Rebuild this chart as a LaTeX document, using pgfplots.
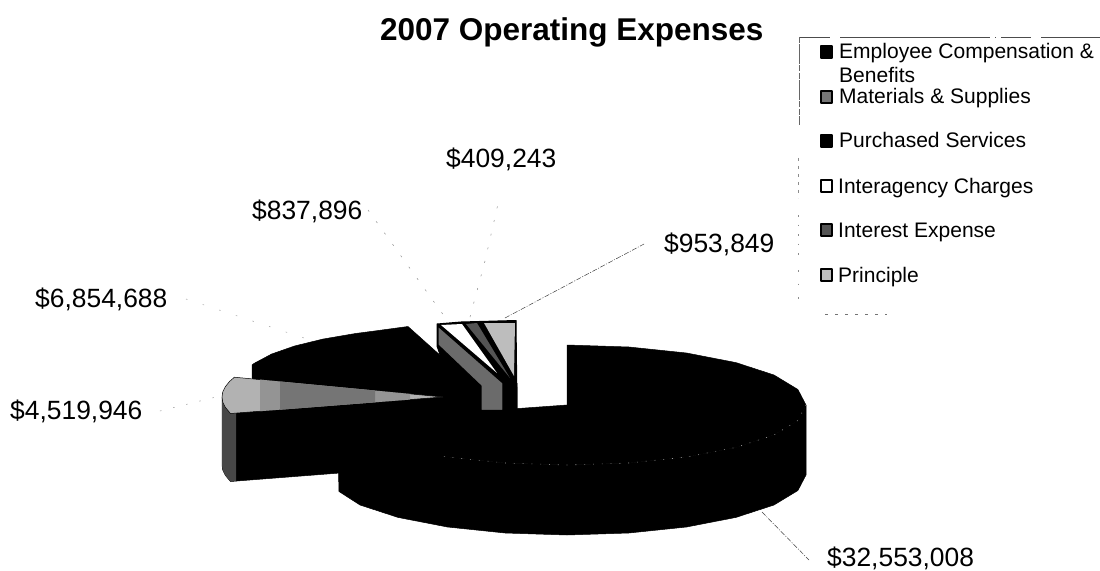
\documentclass[border=0pt]{standalone}
\usepackage{pgfplots}
\usepackage{fontspec}
\setmainfont{Liberation Sans}
\pgfplotsset{compat=1.18}
\definecolor{matTop}{gray}{0.70}
\definecolor{matBand}{gray}{0.58}
\definecolor{matMid}{gray}{0.46}
\definecolor{matRim}{gray}{0.28}
\definecolor{strip}{gray}{0.42}
\definecolor{intr}{gray}{0.33}
\definecolor{princ}{gray}{0.74}
\newcommand{\lab}[3]{\node[anchor=base west,inner sep=0pt,font=\fontsize{26.5pt}{30pt}\selectfont] at (axis cs:#1,#2) {#3};}
\newcommand{\leg}[3]{\node[anchor=base west,inner sep=0pt,font=\fontsize{21.1pt}{24pt}\selectfont] at (axis cs:#1,#2) {#3};}
\begin{document}
\begin{tikzpicture}
\useasboundingbox (0,0) rectangle (1100bp,571bp);
\begin{axis}[
  at={(0,0)}, anchor=south west,
  scale only axis, width=1100bp, height=571bp,
  xmin=0, xmax=1100, ymin=0, ymax=571, y dir=reverse,
  hide axis, clip=false,
  every axis plot/.append style={no markers, line join=round},
]
% Exploded slice: Purchased Services ($6,854,688) with its wall
\addplot[fill=black,draw=black,line width=0.5bp] coordinates {
 (252,365) (253.9,363.5) (271.7,354) (294.6,346) (322.8,339.1) (355.5,333.5)
 (373.2,331.2) (408,326.5) (470,382) (470,440) (443,440) (252,380)} --cycle;
% Backing of the three narrow slices
\addplot[fill=black,draw=black,line width=1bp] coordinates {
 (437,324) (461,322) (516,320.5) (517,409) (517,440) (470,440) (437,346)} --cycle;

% Largest slice: Employee Compensation & Benefits ($32,553,008) - wall
\addplot[fill=black,draw=black,line width=0.5bp] coordinates {
 (806,405) (797.9,420.5) (774,435) (736,447.4) (686.5,457) (628.9,463) (567,465)
 (505.1,463) (447.5,457) (398,447.4) (360,435) (337.2,421.5)
 (339,491.5) (360,505) (398,517.4) (447.5,527) (505.1,533) (567,535)
 (628.9,533) (686.5,527) (736,517.4) (774,505) (797.9,490.5) (806,475)} --cycle;
% Largest slice - top face
\addplot[fill=black,draw=black,line width=0.5bp] coordinates {
 (567,345) (628.9,347) (686.5,353) (736,362.6) (774,375) (797.9,389.5) (806,405)
 (797.9,420.5) (774,435) (736,447.4) (686.5,457) (628.9,463) (567,465)
 (505.1,463) (447.5,457) (398,447.4) (360,435) (337.2,421.5) (567,405)} --cycle;
% Faint rim between top face and wall
\addplot[gray!70,line width=0.6bp,dash pattern=on 0.8bp off 8bp] coordinates {
 (806,405) (797.9,420.5) (774,435) (736,447.4) (686.5,457) (628.9,463) (567,465)
 (505.1,463) (447.5,457) (398,447.4) (360,435)};

% Exploded slice: Materials & Supplies ($4,519,946) - wall
\addplot[fill=black,draw=black,line width=0.5bp] coordinates {
 (222,397) (222,465) (222.8,470.2) (225.4,475.4) (230.5,481.5) (340,473) (443,465) (443,397)} --cycle;
\addplot[fill=matRim,draw=none] coordinates {
 (222,397) (222,465) (222.8,470.2) (225.4,475.4) (230.5,481.5) (236,481) (236,412)} --cycle;
% Materials & Supplies - top face, darkening toward the middle
\addplot[fill=matTop,draw=black,line width=0.5bp] coordinates {
 (443,397) (230.5,413.5) (225.4,407.4) (222.8,402.2) (222,397) (222.8,391.8)
 (225.4,386.6) (229.5,381.5) (234.4,377.2)} --cycle;
\addplot[fill=matBand,draw=none] coordinates {
 (260,379.6) (410,393.9) (410,399.6) (260,411.2)} --cycle;
\addplot[fill=matMid,draw=none] coordinates {
 (280,381.6) (375,390.5) (375,402.3) (280,409.7)} --cycle;

% Cut face below the Interagency Charges slice
\addplot[fill=strip,draw=black,line width=1.2bp] coordinates {
 (438,326) (503,383) (503,410.5) (481,410.5) (481,386) (438,345)} --cycle;
\addplot[fill=black,draw=black,line width=0.5bp] coordinates {(503,383) (517,383) (517,409) (503,410.5)} --cycle;
% Interagency Charges ($837,896) - top face
\addplot[fill=white,draw=none] coordinates {(441,325) (462,324) (497,373)} --cycle;
% Interest Expense ($409,243) - top face
\addplot[fill=intr,draw=none] coordinates {(466,324) (477,323) (510,378)} --cycle;
% Principle ($953,849) - top face
\addplot[fill=princ,draw=none] coordinates {(484,323) (515,323) (514,376)} --cycle;

% Leader lines
\addplot[black!75,line width=0.5bp,dash pattern=on 5bp off 1.5bp on 1bp off 1.5bp] coordinates {(762,512) (809,560)};
\addplot[black!75,line width=0.5bp,dash pattern=on 5bp off 1.5bp on 1bp off 1.5bp] coordinates {(505,318) (644,244)};
\addplot[black!45,line width=0.5bp,dash pattern=on 2bp off 12bp] coordinates {(470,317) (485,261) (500,195)};
\addplot[black!45,line width=0.5bp,dash pattern=on 2bp off 12bp] coordinates {(368,210) (447,320)};
\addplot[black!40,line width=0.5bp,dash pattern=on 1.5bp off 16bp] coordinates {(186,299) (310,340)};
\addplot[black!40,line width=0.5bp,dash pattern=on 1.5bp off 12bp] coordinates {(160,411) (220,396)};

% Legend frame, only partly printed
\addplot[black!70,line width=0.6bp,dash pattern=on 30bp off 10bp on 150bp off 5bp on 1bp off 5bp] coordinates {(800,37) (1100,37)};
\addplot[black!60,line width=0.5bp,dash pattern=on 6bp off 1bp on 20bp off 1bp on 6bp off 2bp] coordinates {(799,37) (799,125)};
\addplot[black!45,line width=0.5bp,dash pattern=on 3bp off 5bp] coordinates {(798,158) (798,198)};
\addplot[black!45,line width=0.5bp,dash pattern=on 1.5bp off 8bp] coordinates {(798,215) (798,255)};
\addplot[black!45,line width=0.5bp,dash pattern=on 1.5bp off 12bp] coordinates {(798,270) (798,305)};
\addplot[black!55,line width=0.5bp,dash pattern=on 3bp off 7bp] coordinates {(825,314) (887,314)};

% Legend keys
\addplot[fill=black,draw=black,line width=1.4bp] coordinates {(821,46) (832,46) (832,58) (821,58)} --cycle;
\addplot[fill=matMid,draw=black,line width=1.4bp] coordinates {(821,91) (832,91) (832,103) (821,103)} --cycle;
\addplot[fill=black,draw=black,line width=1.4bp] coordinates {(821,135) (832,135) (832,147) (821,147)} --cycle;
\addplot[fill=white,draw=black,line width=1.4bp] coordinates {(821,180) (832,180) (832,192) (821,192)} --cycle;
\addplot[fill=intr,draw=black,line width=1.4bp] coordinates {(821,224) (832,224) (832,236) (821,236)} --cycle;
\addplot[fill=princ,draw=black,line width=1.4bp] coordinates {(821,269) (832,269) (832,281) (821,281)} --cycle;

% Legend entries
\leg{839}{59}{Employee Compensation \&}
\leg{839}{83}{Benefits}
\leg{839}{104}{Materials \& Supplies}
\leg{839}{148}{Purchased Services}
\leg{838}{193}{Interagency Charges}
\leg{838}{237}{Interest Expense}
\leg{838}{282}{Principle}

% Slice values
\lab{10}{419}{\$4,519,946}
\lab{35}{307}{\$6,854,688}
\lab{252}{219}{\$837,896}
\lab{446}{167}{\$409,243}
\lab{664}{252}{\$953,849}
\lab{827}{566}{\$32,553,008}

% Title
\node[anchor=base west,inner sep=0pt,font=\bfseries\fontsize{31.6pt}{36pt}\selectfont] at (axis cs:380,41) {2007 Operating Expenses};
\end{axis}
\end{tikzpicture}
\end{document}
